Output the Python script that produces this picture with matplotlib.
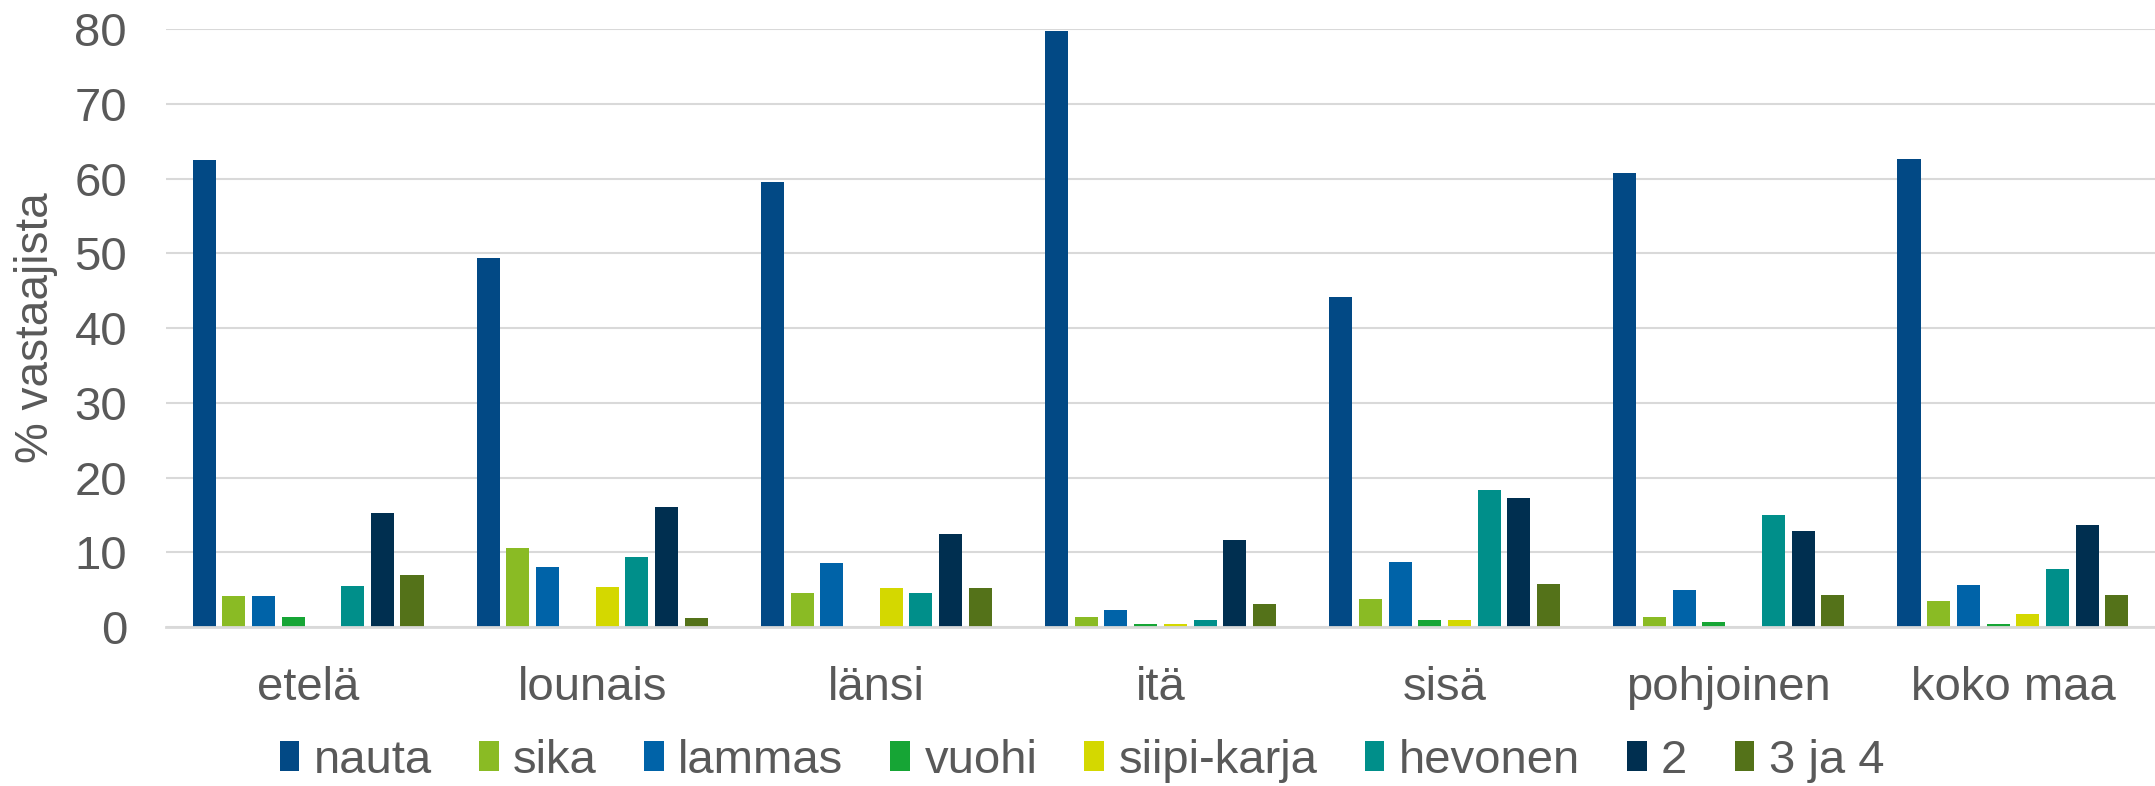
import matplotlib
matplotlib.use("Agg")
import matplotlib.pyplot as plt
import numpy as np

plt.rcParams['font.family'] = ['Liberation Sans', 'DejaVu Sans']

regions = ['etelä', 'lounais', 'länsi', 'itä', 'sisä', 'pohjoinen', 'koko maa']
series = ['nauta', 'sika', 'lammas', 'vuohi', 'siipi-karja', 'hevonen', '2', '3 ja 4']
colors = ['#024985', '#8ABB24', '#0063A8', '#16A535', '#D4D800', '#008F8A', '#002F50', '#547219']

nauta = [62.5, 49.3, 59.5, 79.7, 44.2, 60.8, 62.6]
sika = [4.2, 10.6, 4.6, 1.3, 3.8, 1.4, 3.5]
lammas = [4.2, 8.0, 8.5, 2.3, 8.7, 5.0, 5.6]
vuohi = [1.4, 0.0, 0.0, 0.4, 1.0, 0.7, 0.45]
siipikarja = [0.0, 5.35, 5.2, 0.4, 1.0, 0.0, 1.8]
hevonen = [5.5, 9.3, 4.6, 0.9, 18.3, 15.0, 7.8]
kaksi = [15.3, 16.0, 12.4, 11.7, 17.3, 12.9, 13.6]
kolme_nelja = [6.9, 1.25, 5.2, 3.1, 5.8, 4.3, 4.3]

values = [nauta, sika, lammas, vuohi, siipikarja, hevonen, kaksi, kolme_nelja]

txt = '#595959'
fig = plt.figure(figsize=(21.55, 7.86), dpi=100)
ax = fig.add_axes([166 / 2155, 1 - 627 / 786, 1 - 166 / 2155, (627 - 29) / 786])

x = np.arange(len(regions))
pitch = 0.1045
width = 0.081
for i, (name, vals, c) in enumerate(zip(series, values, colors)):
    ax.bar(x + (i - 3.5) * pitch, vals, width, color=c, label=name, zorder=3)

ax.set_xlim(-0.5, len(regions) - 0.5)
ax.set_ylim(0, 80)
ax.set_yticks(range(0, 81, 10))
ax.set_xticks(x)
ax.set_xticklabels(regions)
ax.tick_params(axis='both', length=0, colors=txt, labelsize=34)
ax.tick_params(axis='x', pad=28)
ax.tick_params(axis='y', pad=28)
ax.grid(axis='y', color='#D9D9D9', linewidth=1.5, zorder=0)
for s in ['top', 'right', 'left']:
    ax.spines[s].set_visible(False)
ax.spines['bottom'].set_color('#D9D9D9')
ax.spines['bottom'].set_linewidth(2)
ax.spines['bottom'].set_zorder(4)

ax.set_ylabel('% vastaajista', fontsize=33, color=txt, labelpad=12)

fig.legend(loc='center', bbox_to_anchor=(0.502, 1 - 761 / 786), ncol=8, frameon=False,
           fontsize=34, labelcolor=txt, handlelength=0.42, handleheight=0.6,
           handletextpad=0.3, columnspacing=1.0, borderaxespad=0)

fig.savefig('out.png', dpi=100)
